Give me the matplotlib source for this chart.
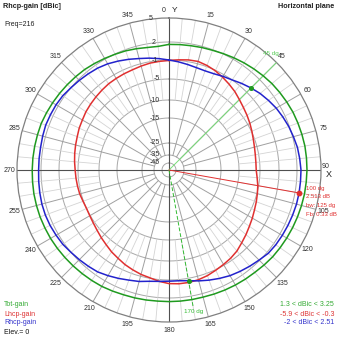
import numpy as np
import matplotlib
matplotlib.use('Agg')
import matplotlib.pyplot as plt
from matplotlib.transforms import offset_copy

plt.rcParams['font.family'] = ['Liberation Sans', 'DejaVu Sans']

# angles in degrees (0 = Y axis, clockwise)
angles = np.arange(0, 360, 5)

# Tot-gain
tot_gain = [1.6, 1.65, 1.7, 1.8, 1.9, 2.05, 2.2, 2.35, 2.5, 2.65, 2.8, 2.9,
            3.0, 3.1, 3.15, 3.2, 3.25, 3.25, 3.25, 3.22, 3.2, 3.15, 3.1, 3.05,
            3.0, 2.95, 2.9, 2.8, 2.7, 2.65, 2.6, 2.55, 2.5, 2.45, 2.45, 2.45,
            2.45, 2.45, 2.5, 2.55, 2.6, 2.7, 2.8, 2.85, 2.9, 2.95, 3.0, 3.05,
            3.1, 3.12, 3.15, 3.15, 3.15, 3.12, 3.1, 3.08, 3.05, 3.02, 3.0, 2.9,
            2.8, 2.7, 2.6, 2.5, 2.4, 2.25, 2.1, 1.95, 1.8, 1.6, 1.4, 1.35]
# Lhcp-gain
lhcp_gain = [-1.1, -0.9, -0.7, -0.6, -0.8, -1.1, -1.6, -2.1, -2.6, -3.2, -3.7, -4.1,
             -4.5, -4.9, -5.3, -5.6, -5.8, -5.9, -5.9, -5.6, -5.2, -4.9, -4.6, -4.3,
             -3.9, -3.5, -3.0, -2.5, -1.9, -1.5, -1.2, -0.9, -0.6, -0.4, -0.3, -0.3,
             -0.4, -0.7, -1.1, -1.4, -1.8, -2.2, -2.7, -3.1, -3.6, -4.0, -4.4, -4.7,
             -4.9, -5.0, -4.9, -4.7, -4.6, -4.5, -4.4, -4.2, -4.0, -3.8, -3.6, -3.3,
             -3.1, -2.8, -2.6, -2.4, -2.2, -2.0, -1.9, -1.8, -1.7, -1.5, -1.3, -1.2]
# Rhcp-gain
rhcp_gain = [-1.0, -1.3, -1.6, -1.85, -1.95, -1.8, -1.4, -1.0, -0.5, 0.0, 0.5, 0.9,
             1.3, 1.6, 1.9, 2.1, 2.3, 2.4, 2.5, 2.5, 2.51, 2.5, 2.45, 2.4,
             2.35, 2.3, 2.2, 1.9, 1.6, 1.3, 1.0, 0.6, 0.2, -0.2, -0.6, -0.8,
             -0.8, -0.7, -0.5, -0.1, 0.2, 0.6, 1.0, 1.4, 1.6, 1.8, 2.0, 2.2,
             2.3, 2.4, 2.45, 2.45, 2.4, 2.35, 2.3, 2.3, 2.3, 2.35, 2.4, 2.35,
             2.3, 2.2, 2.0, 1.8, 1.6, 1.4, 1.1, 0.7, 0.3, -0.1, -0.4, -0.7]

ring_values = [5, 2, -1, -5, -10, -15, -25, -35, -45]
angle_labels = [str(a) for a in range(0, 360, 15)]

# 4nec2-like compressed dB scale (dB -> radius)
scale_db = [-52, -45, -35, -25, -15, -10, -5, -1, 2, 5, 12]
scale_px = [0, 7, 15, 27, 52, 70, 91, 110, 128, 152, 208]


def fwd(v):
    return np.interp(v, scale_db, scale_px)


def inv(v):
    return np.interp(v, scale_px, scale_db)


GREEN = '#1f9a1f'
RED = '#e03030'
BLUE = '#2222cc'

fig = plt.figure(figsize=(3.39, 3.39), dpi=100)
ax = fig.add_axes([17 / 339, 17 / 339, 304 / 339, 304 / 339], projection='polar')
ax.set_theta_zero_location('N')
ax.set_theta_direction(-1)
ax.set_rscale('function', functions=(fwd, inv))
ax.set_rlim(-52, 5)
ax.set_xticks([])
ax.set_yticks([])
ax.grid(False)
ax.spines['polar'].set_color('#808080')
ax.spines['polar'].set_linewidth(0.9)

full = np.linspace(0, 2 * np.pi, 361)
for v in ring_values[1:]:
    ax.plot(full, np.full_like(full, v), color='#a8a8a8', lw=0.7, zorder=1)

# spokes
for a in range(0, 360, 5):
    t = np.deg2rad(a)
    if a % 90 == 0:
        continue
    if a % 15 == 0:
        ax.plot([t, t], [-35, 5], color='#a0a0a0', lw=0.7, zorder=1)
    else:
        ax.plot([t, t], [-10, 5], color='#d4d4d4', lw=0.6, zorder=1)
for a in [0, 90, 180, 270]:
    t = np.deg2rad(a)
    ax.plot([t, t], [-52, 5], color='#505050', lw=0.8, zorder=2)

# ring labels
for v in ring_values:
    off = -max(9, 0.105 * float(fwd(v)))
    tr = offset_copy(ax.transData, fig=fig, x=off, y=0, units='dots')
    ax.text(0, v, str(v), transform=tr, ha='right', va='center',
            fontsize=5, color='#303030', zorder=9)

# angle labels
for a, lab in zip(range(0, 360, 15), angle_labels):
    t = np.deg2rad(a)
    if a == 0:
        ax.text(t, 6, lab, transform=offset_copy(ax.transData, fig=fig, x=-3, y=0, units='dots'),
                ha='right', va='center', fontsize=5, color='#303030')
        ax.text(t, 6, 'Y', transform=offset_copy(ax.transData, fig=fig, x=3, y=0, units='dots'),
                ha='left', va='center', fontsize=6, color='#202020')
    elif a == 90:
        ax.text(t, 5.6, lab, ha='center', va='bottom', fontsize=5, color='#303030')
        ax.text(t, 6.0, 'X', ha='center', va='top', fontsize=6.5, color='#202020')
    else:
        ax.text(t, 6, lab, ha='center', va='center', fontsize=5, color='#303030')

# curves
th = np.deg2rad(np.append(angles, 360))
ax.plot(th, tot_gain + tot_gain[:1], color=GREEN, lw=1.1, zorder=5)
ax.plot(th, lhcp_gain + lhcp_gain[:1], color=RED, lw=1.1, zorder=5)
ax.plot(th, rhcp_gain + rhcp_gain[:1], color=BLUE, lw=1.1, zorder=6)

# markers
ax.plot([np.deg2rad(45)] * 2, [-52, 5], color='#77dd77', lw=0.7, zorder=3)
ax.plot([np.deg2rad(170)] * 2, [-52, 3.3], color='#33bb33', lw=0.7, ls=(0, (4, 2)), zorder=3)
ax.plot([np.deg2rad(100)] * 2, [-52, 2.513], color=RED, lw=0.7, zorder=7)
ax.plot(np.deg2rad(100), 2.513, 'o', color=RED, ms=3.2, zorder=8)
ax.plot(np.deg2rad(45), 0.0, 'o', color=GREEN, ms=2.6, zorder=8)
ax.plot(np.deg2rad(170), -0.6, 'o', color=GREEN, ms=2.6, zorder=8)


# figure texts
def ftext(x, y, s, **kw):
    fig.text(x / 339, 1 - y / 339, s, va='center', **kw)


ftext(3, 7, 'Rhcp-gain [dBic]', fontsize=5.2, fontweight='bold', color='#202020')
ftext(4, 24, 'Freq=216', fontsize=5, color='#202020')
ftext(334, 7, 'Horizontal plane', fontsize=5.2, fontweight='bold', color='#202020', ha='right')

ftext(4, 305, 'Tot-gain', fontsize=5, color='#33aa33')
ftext(4, 314, 'Lhcp-gain', fontsize=5, color='#dd3333')
ftext(4, 323, 'Rhcp-gain', fontsize=5, color='#3333cc')
ftext(4, 332, 'Elev.= 0', fontsize=5, color='#101010')

ftext(334, 305, '1.3 < dBic < 3.25', fontsize=5, color='#33aa33', ha='right')
ftext(334, 314, '-5.9 < dBic < -0.3', fontsize=5, color='#dd3333', ha='right')
ftext(334, 323, '-2 < dBic < 2.51', fontsize=5, color='#3333cc', ha='right')

ftext(306, 188, '100 dg', fontsize=4.3, color=RED)
ftext(306, 197, '2.513 dB', fontsize=4.3, color=RED)
ftext(306, 206, 'bw: 125 dg', fontsize=4.3, color=RED)
ftext(306, 215, 'Fb: 0.33 dB', fontsize=4.3, color=RED)
ftext(263, 54, '45 dg', fontsize=4.5, color='#55cc55')
ftext(184, 311, '170 dg', fontsize=4.5, color='#33bb33')

fig.savefig('out.png', dpi=100)
